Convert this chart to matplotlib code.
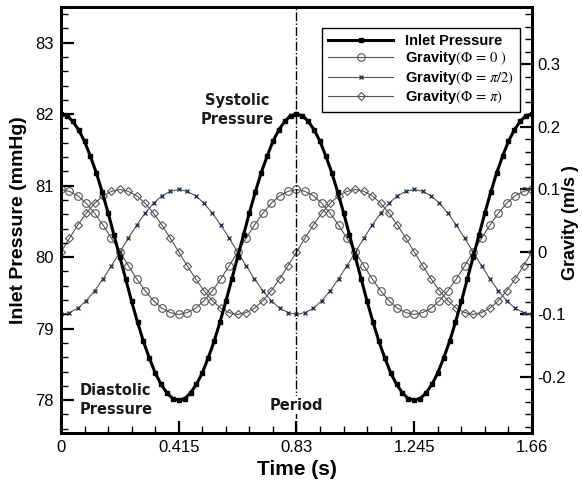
import numpy as np
import matplotlib
matplotlib.use("Agg")
import matplotlib.pyplot as plt
from matplotlib.ticker import FixedLocator, FixedFormatter, MultipleLocator

plt.rcParams["font.family"] = ["Liberation Sans", "DejaVu Sans"]
plt.rcParams["mathtext.fontset"] = "stix"

# inlet pressure (mmHg), 40 samples per cardiac period, two periods
pressure_period = [82.00, 81.98, 81.90, 81.78, 81.62, 81.41, 81.18, 80.91, 80.62, 80.31,
                   80.00, 79.69, 79.38, 79.09, 78.82, 78.59, 78.38, 78.22, 78.10, 78.02,
                   78.00, 78.02, 78.10, 78.22, 78.38, 78.59, 78.82, 79.09, 79.38, 79.69,
                   80.00, 80.31, 80.62, 80.91, 81.18, 81.41, 81.62, 81.78, 81.90, 81.98]
pressure = pressure_period + pressure_period + [82.00]

# gravity (m/s2), 28 samples per period, two periods
grav_phi0_period = [0.100, 0.097, 0.090, 0.078, 0.062, 0.043, 0.022, 0.000, -0.022, -0.043,
                    -0.062, -0.078, -0.090, -0.097, -0.100, -0.097, -0.090, -0.078, -0.062, -0.043,
                    -0.022, 0.000, 0.022, 0.043, 0.062, 0.078, 0.090, 0.097]
grav_phi_half_period = [-0.100, -0.097, -0.090, -0.078, -0.062, -0.043, -0.022, 0.000, 0.022, 0.043,
                        0.062, 0.078, 0.090, 0.097, 0.100, 0.097, 0.090, 0.078, 0.062, 0.043,
                        0.022, 0.000, -0.022, -0.043, -0.062, -0.078, -0.090, -0.097]
grav_phi_pi_period = [0.000, 0.022, 0.043, 0.062, 0.078, 0.090, 0.097, 0.100, 0.097, 0.090,
                      0.078, 0.062, 0.043, 0.022, 0.000, -0.022, -0.043, -0.062, -0.078, -0.090,
                      -0.097, -0.100, -0.097, -0.090, -0.078, -0.062, -0.043, -0.022]
grav_phi0 = grav_phi0_period * 2 + [0.100]
grav_phi_half = grav_phi_half_period * 2 + [-0.100]
grav_phi_pi = grav_phi_pi_period * 2 + [0.000]

t_end = 1.66
t_pressure = np.linspace(0, t_end, len(pressure))
t_gravity = np.linspace(0, t_end, len(grav_phi0))

x_ticks = [0, 0.415, 0.83, 1.245, 1.66]
x_labels = ["0", "0.415", "0.83", "1.245", "1.66"]
y_ticks = [78, 79, 80, 81, 82, 83]
g_ticks = [-0.2, -0.1, 0, 0.1, 0.2, 0.3]
g_labels = ["-0.2", "-0.1", "0", "0.1", "0.2", "0.3"]

fig = plt.figure(figsize=(5.82, 4.82), dpi=100)
ax = fig.add_axes([0.1048, 0.1017, 0.8093, 0.8838])
ax2 = ax.twinx()

grey = "#555555"
l1, = ax.plot(t_pressure, pressure, color="black", lw=2.2, marker="s", ms=3,
              label="Inlet Pressure", zorder=5)
l2, = ax2.plot(t_gravity, grav_phi0, color=grey, lw=0.8, marker="o", ms=5.5,
               mfc="none", mec=grey, mew=0.8, label=r"Gravity$(\Phi\,=\,0\ )$")
l3, = ax2.plot(t_gravity, grav_phi_half, color=grey, lw=0.8, marker="x", ms=3.5,
               mec="#2a3550", mew=1.0, label=r"Gravity$(\Phi\,=\,\pi/2)$")
l4, = ax2.plot(t_gravity, grav_phi_pi, color=grey, lw=0.8, marker="D", ms=4.5,
               mfc="none", mec=grey, mew=0.8, label=r"Gravity$(\Phi\,=\,\pi)$")
ax.set_zorder(ax2.get_zorder() + 1)
ax.patch.set_visible(False)

ax.axvline(0.83, color="black", lw=1.0, ls="-.", zorder=1)

ax.set_xlim(0, t_end)
ax.set_ylim(77.54, 83.5)
ax2.set_ylim(-0.2896, 0.392)

ax.xaxis.set_major_locator(FixedLocator(x_ticks))
ax.xaxis.set_major_formatter(FixedFormatter(x_labels))
ax.xaxis.set_minor_locator(MultipleLocator(0.083))
ax.set_yticks(y_ticks)
ax.yaxis.set_minor_locator(MultipleLocator(0.2))
ax2.yaxis.set_major_locator(FixedLocator(g_ticks))
ax2.yaxis.set_major_formatter(FixedFormatter(g_labels))
ax2.yaxis.set_minor_locator(MultipleLocator(0.02))

for a in (ax, ax2):
    for s in a.spines.values():
        s.set_linewidth(2)
    a.tick_params(which="major", direction="in", length=9, width=1.6, labelsize=12, pad=5)
    a.tick_params(which="minor", direction="in", length=5, width=1)
ax.tick_params(which="both", top=False, right=False)
ax2.tick_params(which="both", left=False, top=False)
ax2.tick_params(which="major", pad=4)

ax.set_xlabel("Time (s)", fontsize=15, fontweight="bold", labelpad=4)
ax.set_ylabel("Inlet Pressure (mmHg)", fontsize=14, fontweight="bold", labelpad=6)
ax2.set_ylabel("Gravity (m/s )", fontsize=13, fontweight="bold",
               rotation=90, ha="center", va="center")
ax2.yaxis.set_label_coords(1.081, 0.495)

note_font = dict(family="DejaVu Sans", fontsize=10.5, fontweight="bold", color="#1a1a1a")
ax.text(0.62, 82.06, "Systolic\nPressure", ha="center", va="center", linespacing=1.3, **note_font)
ax.text(0.065, 78.0, "Diastolic\nPressure", ha="left", va="center", linespacing=1.3, **note_font)
ax.text(0.83, 77.93, "Period", ha="center", va="center", zorder=3,
        bbox=dict(facecolor="white", edgecolor="none", pad=1), **note_font)

leg = ax.legend(handles=[l1, l2, l3, l4], loc="upper left", bbox_to_anchor=(0.554, 0.951),
                borderaxespad=0, handlelength=4.5, numpoints=1, fancybox=False,
                framealpha=1, edgecolor="black", borderpad=0.4, labelspacing=0.1,
                handletextpad=0.8, prop=dict(weight="bold", size=10.5))
leg.get_frame().set_linewidth(1)

fig.savefig("out.png", dpi=100)
